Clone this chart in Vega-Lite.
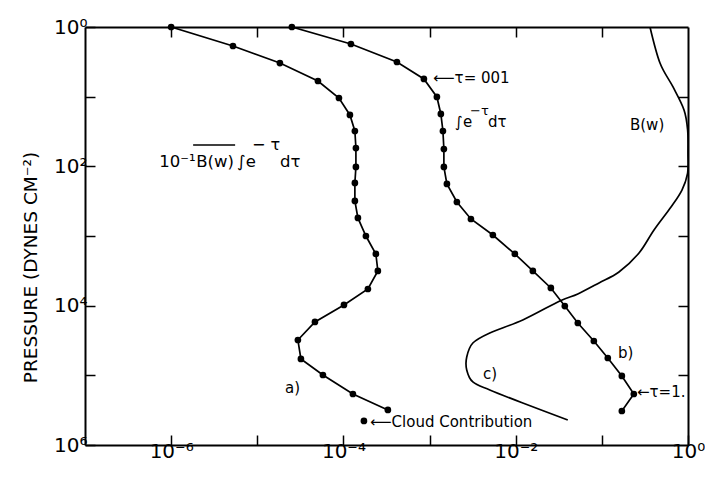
{
  "$schema": "https://vega.github.io/schema/vega-lite/v6.json",
  "width": 603,
  "height": 418,
  "autosize": "none",
  "padding": {"left": 85, "top": 27, "right": 17, "bottom": 36},
  "background": "white",
  "config": {
    "view": {"stroke": null},
    "axis": {
      "grid": false,
      "domainColor": "black",
      "domainWidth": 2,
      "tickColor": "black",
      "tickWidth": 1.5,
      "tickSize": -10,
      "labelFont": "DejaVu Sans",
      "labelFontSize": 20,
      "labelColor": "black",
      "labelFlush": false,
      "labelOverlap": false,
      "titleFont": "DejaVu Sans",
      "titleColor": "black"
    },
    "text": {"font": "DejaVu Sans", "color": "black"}
  },
  "datasets": {
    "curves": [
      {"series": "a", "order": 1, "x": 1e-6, "y": 1},
      {"series": "a", "order": 2, "x": 5.22e-6, "y": 1.875},
      {"series": "a", "order": 3, "x": 1.83e-5, "y": 3.29},
      {"series": "a", "order": 4, "x": 5.06e-5, "y": 5.96},
      {"series": "a", "order": 5, "x": 8.87e-5, "y": 10.45},
      {"series": "a", "order": 6, "x": 1.189e-4, "y": 18.3},
      {"series": "a", "order": 7, "x": 1.358e-4, "y": 31.1},
      {"series": "a", "order": 8, "x": 1.396e-4, "y": 54.6},
      {"series": "a", "order": 9, "x": 1.396e-4, "y": 102},
      {"series": "a", "order": 10, "x": 1.358e-4, "y": 173},
      {"series": "a", "order": 11, "x": 1.358e-4, "y": 314},
      {"series": "a", "order": 12, "x": 1.472e-4, "y": 551},
      {"series": "a", "order": 13, "x": 1.824e-4, "y": 1000},
      {"series": "a", "order": 14, "x": 2.38e-4, "y": 1811},
      {"series": "a", "order": 15, "x": 2.51e-4, "y": 3177},
      {"series": "a", "order": 16, "x": 1.923e-4, "y": 5768},
      {"series": "a", "order": 17, "x": 1.014e-4, "y": 9772},
      {"series": "a", "order": 18, "x": 4.67e-5, "y": 17140},
      {"series": "a", "order": 19, "x": 2.96e-5, "y": 31120},
      {"series": "a", "order": 20, "x": 3.21e-5, "y": 58210},
      {"series": "a", "order": 21, "x": 5.78e-5, "y": 98850},
      {"series": "a", "order": 22, "x": 1.288e-4, "y": 185400},
      {"series": "a", "order": 23, "x": 3.28e-4, "y": 314100},
      {"series": "cloud", "order": 1, "x": 1.73e-4, "y": 451900},
      {"series": "b", "order": 1, "x": 2.52e-5, "y": 1},
      {"series": "b", "order": 2, "x": 1.222e-4, "y": 1.754},
      {"series": "b", "order": 3, "x": 4.18e-4, "y": 3.18},
      {"series": "b", "order": 4, "x": 8.59e-4, "y": 5.57},
      {"series": "b", "order": 5, "x": 1.216e-3, "y": 10.1},
      {"series": "b", "order": 6, "x": 1.352e-3, "y": 17.7},
      {"series": "b", "order": 7, "x": 1.429e-3, "y": 31.1},
      {"series": "b", "order": 8, "x": 1.466e-3, "y": 56.4},
      {"series": "b", "order": 9, "x": 1.466e-3, "y": 102},
      {"series": "b", "order": 10, "x": 1.589e-3, "y": 179},
      {"series": "b", "order": 11, "x": 2.075e-3, "y": 325},
      {"series": "b", "order": 12, "x": 3.02e-3, "y": 570},
      {"series": "b", "order": 13, "x": 5.43e-3, "y": 968},
      {"series": "b", "order": 14, "x": 9.77e-3, "y": 1811},
      {"series": "b", "order": 15, "x": 0.01581, "y": 3177},
      {"series": "b", "order": 16, "x": 0.02559, "y": 5572},
      {"series": "b", "order": 17, "x": 0.03715, "y": 10120},
      {"series": "b", "order": 18, "x": 0.0526, "y": 17740},
      {"series": "b", "order": 19, "x": 0.0807, "y": 32140},
      {"series": "b", "order": 20, "x": 0.1172, "y": 56360},
      {"series": "b", "order": 21, "x": 0.1706, "y": 102100},
      {"series": "b", "order": 22, "x": 0.235, "y": 185400},
      {"series": "b", "order": 23, "x": 0.1706, "y": 325100},
      {"series": "c", "order": 1, "x": 0.362, "y": 1},
      {"series": "c", "order": 2, "x": 0.473, "y": 3.29},
      {"series": "c", "order": 3, "x": 0.67, "y": 7.26},
      {"series": "c", "order": 4, "x": 0.899, "y": 15.5},
      {"series": "c", "order": 5, "x": 0.99, "y": 30.1},
      {"series": "c", "order": 6, "x": 1.0, "y": 64.4},
      {"series": "c", "order": 7, "x": 0.99, "y": 124.7},
      {"series": "c", "order": 8, "x": 0.851, "y": 218.8},
      {"series": "c", "order": 9, "x": 0.635, "y": 383.7},
      {"series": "c", "order": 10, "x": 0.403, "y": 820},
      {"series": "c", "order": 11, "x": 0.27, "y": 1754},
      {"series": "c", "order": 12, "x": 0.158, "y": 3289},
      {"series": "c", "order": 13, "x": 0.0927, "y": 4721},
      {"series": "c", "order": 14, "x": 0.0526, "y": 6792},
      {"series": "c", "order": 15, "x": 0.0325, "y": 8570},
      {"series": "c", "order": 16, "x": 0.01208, "y": 16070},
      {"series": "c", "order": 17, "x": 0.005, "y": 24660},
      {"series": "c", "order": 18, "x": 0.00318, "y": 34360},
      {"series": "c", "order": 19, "x": 0.0027, "y": 54580},
      {"series": "c", "order": 20, "x": 0.0027, "y": 83750},
      {"series": "c", "order": 21, "x": 0.00318, "y": 124500},
      {"series": "c", "order": 22, "x": 0.005, "y": 162200},
      {"series": "c", "order": 23, "x": 0.01208, "y": 249500},
      {"series": "c", "order": 24, "x": 0.0402, "y": 437500}
    ],
    "textBig": [
      {"label": "10⁻¹", "x": 7.3e-7, "y": 102.2},
      {"label": "B(w)", "x": 1.95e-6, "y": 102.2},
      {"label": "∫e", "x": 5.83e-6, "y": 102.2},
      {"label": "dτ", "x": 1.84e-5, "y": 102.2}
    ],
    "textMed": [
      {"label": "⟵τ=  001", "x": 1.099e-3, "y": 6.37},
      {"label": "∫e", "x": 1.977e-3, "y": 27.2},
      {"label": "dτ", "x": 4.77e-3, "y": 27.2},
      {"label": "B(w)", "x": 0.212, "y": 30.1},
      {"label": "a)", "x": 2.1e-5, "y": 179200},
      {"label": "b)", "x": 0.154, "y": 56360},
      {"label": "c)", "x": 4.18e-3, "y": 112800},
      {"label": "⟵Cloud Contribution", "x": 2.04e-4, "y": 551000},
      {"label": "←τ=1.", "x": 0.256, "y": 204600}
    ],
    "supBig": [
      {"label": "− τ", "x": 8.71e-6, "y": 58.3}
    ],
    "supMed": [
      {"label": "−τ", "x": 2.95e-3, "y": 18.3}
    ],
    "overline": [
      {"x": 1.8e-6, "x2": 5.53e-6, "y": 49.4}
    ]
  },
  "layer": [
    {
      "data": {"name": "curves"},
      "transform": [{"filter": "datum.series == 'a' || datum.series == 'b'"}],
      "mark": {"type": "line", "color": "black", "strokeWidth": 1.7, "clip": true},
      "encoding": {
        "x": {
          "field": "x", "type": "quantitative",
          "scale": {"type": "log", "domain": [1e-7, 1], "nice": false},
          "axis": {
            "orient": "bottom",
            "title": null,
            "values": [1e-6, 1e-5, 1e-4, 1e-3, 1e-2, 1e-1, 1],
            "labelPadding": 6,
            "labelExpr": "round(log(datum.value)/LN10) == -6 ? '10⁻⁶' : round(log(datum.value)/LN10) == -4 ? '10⁻⁴' : round(log(datum.value)/LN10) == -2 ? '10⁻²' : round(log(datum.value)/LN10) == 0 ? '10⁰' : ''"
          }
        },
        "y": {
          "field": "y", "type": "quantitative",
          "scale": {"type": "log", "domain": [1, 1e6], "reverse": true, "nice": false},
          "axis": {
            "orient": "left",
            "title": "PRESSURE (DYNES CM⁻²)",
            "titleFontSize": 18.5,
            "titleFontWeight": "normal",
            "titleX": -55,
            "titleY": 240,
            "titleAlign": "center",
            "titleBaseline": "middle",
            "titleAngle": -90,
            "values": [1, 10, 100, 1000, 10000, 100000, 1000000],
            "labelPadding": 8,
            "labelExpr": "round(log(datum.value)/LN10) == 0 ? '10⁰' : round(log(datum.value)/LN10) == 2 ? '10²' : round(log(datum.value)/LN10) == 4 ? '10⁴' : round(log(datum.value)/LN10) == 6 ? '10⁶' : ''"
          }
        },
        "detail": {"field": "series"},
        "order": {"field": "order"}
      }
    },
    {
      "data": {"name": "curves"},
      "transform": [{"filter": "datum.series == 'c'"}],
      "mark": {"type": "line", "color": "black", "strokeWidth": 1.7, "interpolate": "cardinal", "clip": true},
      "encoding": {
        "x": {"field": "x", "type": "quantitative", "axis": null},
        "y": {"field": "y", "type": "quantitative", "axis": null},
        "order": {"field": "order"}
      }
    },
    {
      "data": {"name": "curves"},
      "transform": [{"filter": "datum.series != 'c'"}],
      "mark": {"type": "point", "filled": true, "color": "black", "opacity": 1, "size": 45},
      "encoding": {
        "x": {
          "field": "x", "type": "quantitative",
          "axis": {"orient": "top", "title": null, "labels": false, "values": [1e-6, 1e-5, 1e-4, 1e-3, 1e-2, 1e-1]}
        },
        "y": {
          "field": "y", "type": "quantitative",
          "axis": {"orient": "right", "title": null, "labels": false, "values": [10, 100, 1000, 10000, 100000]}
        }
      }
    },
    {
      "data": {"name": "overline"},
      "mark": {"type": "rule", "color": "black", "strokeWidth": 1.5},
      "encoding": {
        "x": {"field": "x", "type": "quantitative", "axis": null},
        "x2": {"field": "x2"},
        "y": {"field": "y", "type": "quantitative", "axis": null}
      }
    },
    {
      "data": {"name": "textBig"},
      "mark": {"type": "text", "fontSize": 16.5, "align": "left", "baseline": "alphabetic"},
      "encoding": {
        "x": {"field": "x", "type": "quantitative", "axis": null},
        "y": {"field": "y", "type": "quantitative", "axis": null},
        "text": {"field": "label"}
      }
    },
    {
      "data": {"name": "textMed"},
      "mark": {"type": "text", "fontSize": 15, "align": "left", "baseline": "alphabetic"},
      "encoding": {
        "x": {"field": "x", "type": "quantitative", "axis": null},
        "y": {"field": "y", "type": "quantitative", "axis": null},
        "text": {"field": "label"}
      }
    },
    {
      "data": {"name": "supBig"},
      "mark": {"type": "text", "fontSize": 16, "align": "left", "baseline": "alphabetic"},
      "encoding": {
        "x": {"field": "x", "type": "quantitative", "axis": null},
        "y": {"field": "y", "type": "quantitative", "axis": null},
        "text": {"field": "label"}
      }
    },
    {
      "data": {"name": "supMed"},
      "mark": {"type": "text", "fontSize": 13, "align": "left", "baseline": "alphabetic"},
      "encoding": {
        "x": {"field": "x", "type": "quantitative", "axis": null},
        "y": {"field": "y", "type": "quantitative", "axis": null},
        "text": {"field": "label"}
      }
    }
  ],
  "resolve": {"axis": {"x": "independent", "y": "independent"}}
}
